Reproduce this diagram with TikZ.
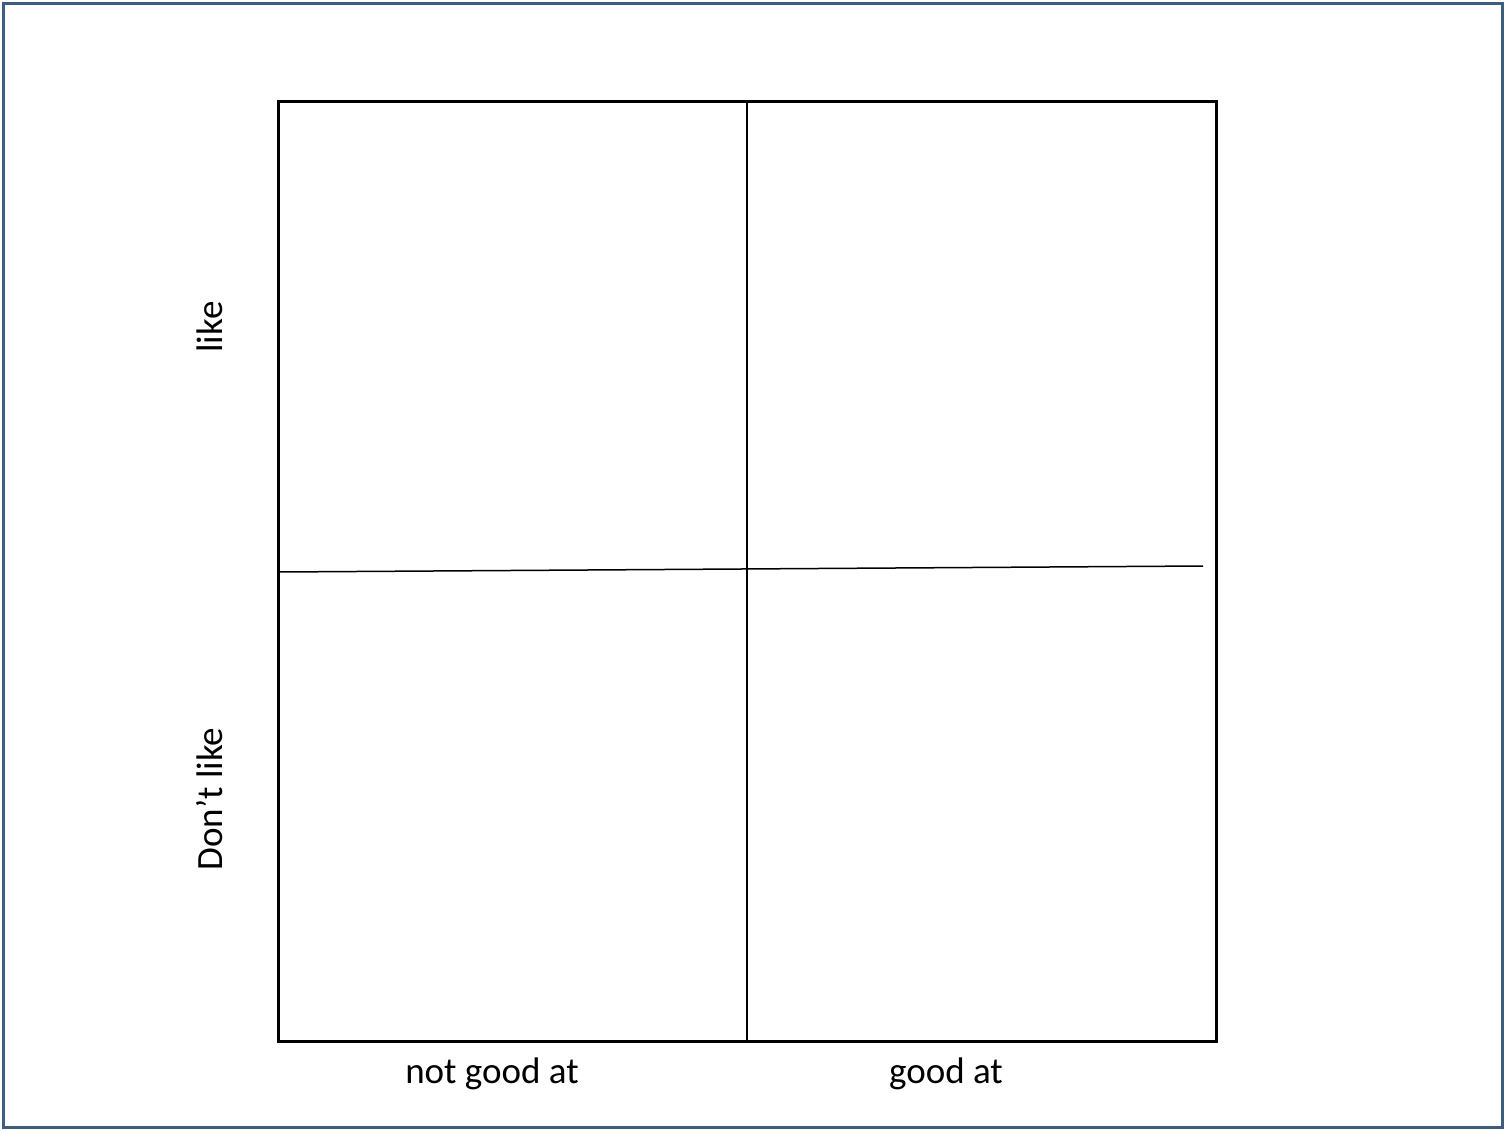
\documentclass[tikz,border=0pt]{standalone}
\usepackage{fontspec}
\setmainfont{Carlito}
\definecolor{frameblue}{RGB}{62,94,128}
\begin{document}
\begin{tikzpicture}[x=1pt,y=-1pt,
  lbl/.style={inner sep=0pt,anchor=base,font=\fontsize{37}{44}\selectfont},
  heavy/.style={line width=3pt,black},
  thin/.style={line width=1.5pt,black}]
\useasboundingbox (0,0) rectangle (1506,1131);
\draw[frameblue,line width=3pt] (3.5,3.5) rectangle (1502.5,1127.5);
\coordinate (tl) at (278,102);
\coordinate (br) at (1216,1041);
\coordinate (vt) at (747,102);
\coordinate (vb) at (747,1041);
\coordinate (hl) at (279,572);
\coordinate (hr) at (1203,566);
\draw[heavy] (tl) rectangle (br);
\draw[thin] (vt) -- (vb);
\draw[thin] (hl) -- (hr);
\node[lbl] (ngood) at (492,1083) {not good at};
\node[lbl] (good) at (946,1083) {good at};
\node[lbl,rotate=90] (like) at (222,327) {like};
\node[lbl,rotate=90] (dlike) at (222,799) {Don’t like};
\end{tikzpicture}
\end{document}
